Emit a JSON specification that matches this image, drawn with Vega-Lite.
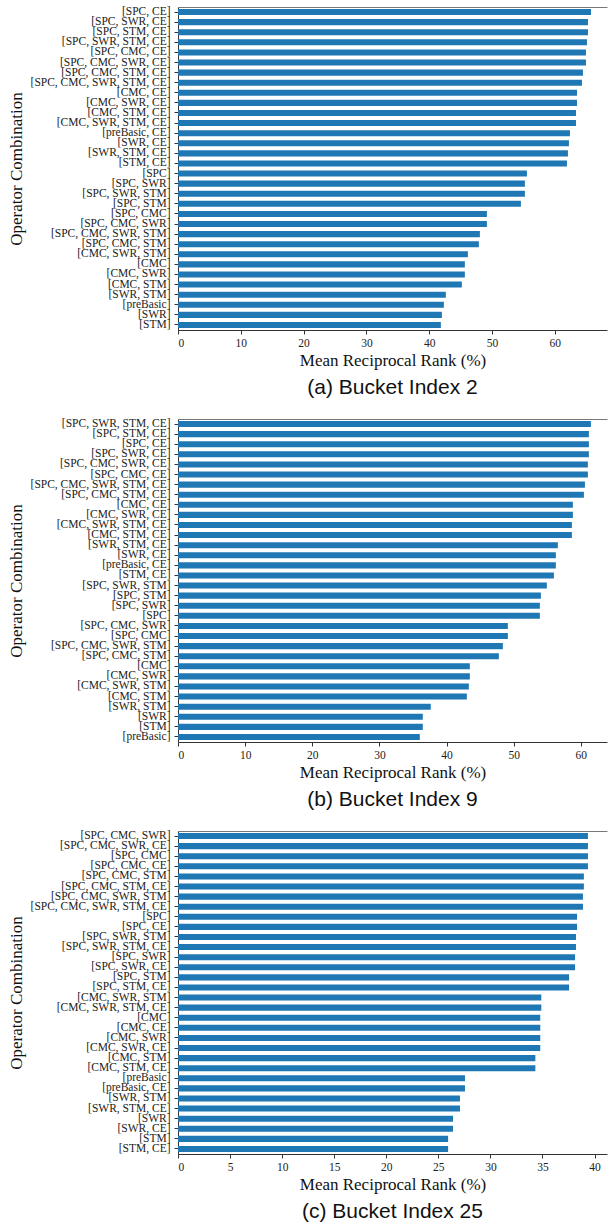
{
  "$schema": "https://vega.github.io/schema/vega-lite/v6.json",
  "padding": {"left": 6, "top": 5, "right": 0, "bottom": 0},
  "autosize": {"type": "pad"},
  "spacing": 19,
  "background": "white",
  "config": {
    "view": {"stroke": "#777", "strokeDash": [429, 3000], "strokeWidth": 1},
    "axis": {"labelFont": "Liberation Serif", "titleFont": "Liberation Serif", "labelFontSize": 11.5, "titleFontSize": 17, "titleFontWeight": "normal", "labelColor": "#222", "titleColor": "#111", "domainColor": "#333", "tickColor": "#333", "tickSize": 4, "grid": false},
    "title": {"font": "Liberation Sans", "fontSize": 21, "fontWeight": "normal", "color": "#111", "orient": "bottom", "anchor": "middle", "offset": 8},
    "bar": {"color": "#1f77b4"},
    "scale": {"bandPaddingInner": 0.4, "bandPaddingOuter": 0.2}
  },
  "datasets": {
    "a": [
      {"combo": "[SPC, CE]", "mrr": 65.75},
      {"combo": "[SPC, SWR, CE]", "mrr": 65.27},
      {"combo": "[SPC, STM, CE]", "mrr": 65.27},
      {"combo": "[SPC, SWR, STM, CE]", "mrr": 65.11},
      {"combo": "[SPC, CMC, CE]", "mrr": 64.95},
      {"combo": "[SPC, CMC, SWR, CE]", "mrr": 64.95},
      {"combo": "[SPC, CMC, STM, CE]", "mrr": 64.47},
      {"combo": "[SPC, CMC, SWR, STM, CE]", "mrr": 64.31},
      {"combo": "[CMC, CE]", "mrr": 63.52},
      {"combo": "[CMC, SWR, CE]", "mrr": 63.52},
      {"combo": "[CMC, STM, CE]", "mrr": 63.36},
      {"combo": "[CMC, SWR, STM, CE]", "mrr": 63.36},
      {"combo": "[preBasic, CE]", "mrr": 62.40},
      {"combo": "[SWR, CE]", "mrr": 62.24},
      {"combo": "[SWR, STM, CE]", "mrr": 62.08},
      {"combo": "[STM, CE]", "mrr": 61.92},
      {"combo": "[SPC]", "mrr": 55.55},
      {"combo": "[SPC, SWR]", "mrr": 55.23},
      {"combo": "[SPC, SWR, STM]", "mrr": 55.23},
      {"combo": "[SPC, STM]", "mrr": 54.59},
      {"combo": "[SPC, CMC]", "mrr": 49.18},
      {"combo": "[SPC, CMC, SWR]", "mrr": 49.18},
      {"combo": "[SPC, CMC, SWR, STM]", "mrr": 48.06},
      {"combo": "[SPC, CMC, STM]", "mrr": 47.90},
      {"combo": "[CMC, SWR, STM]", "mrr": 46.15},
      {"combo": "[CMC]", "mrr": 45.67},
      {"combo": "[CMC, SWR]", "mrr": 45.67},
      {"combo": "[CMC, STM]", "mrr": 45.19},
      {"combo": "[SWR, STM]", "mrr": 42.64},
      {"combo": "[preBasic]", "mrr": 42.33},
      {"combo": "[SWR]", "mrr": 42.01},
      {"combo": "[STM]", "mrr": 41.85}
    ],
    "b": [
      {"combo": "[SPC, SWR, STM, CE]", "mrr": 61.50},
      {"combo": "[SPC, STM, CE]", "mrr": 61.20},
      {"combo": "[SPC, CE]", "mrr": 61.20},
      {"combo": "[SPC, SWR, CE]", "mrr": 61.20},
      {"combo": "[SPC, CMC, SWR, CE]", "mrr": 61.05},
      {"combo": "[SPC, CMC, CE]", "mrr": 61.05},
      {"combo": "[SPC, CMC, SWR, STM, CE]", "mrr": 60.61},
      {"combo": "[SPC, CMC, STM, CE]", "mrr": 60.46},
      {"combo": "[CMC, CE]", "mrr": 58.82},
      {"combo": "[CMC, SWR, CE]", "mrr": 58.82},
      {"combo": "[CMC, SWR, STM, CE]", "mrr": 58.67},
      {"combo": "[CMC, STM, CE]", "mrr": 58.67},
      {"combo": "[SWR, STM, CE]", "mrr": 56.58},
      {"combo": "[SWR, CE]", "mrr": 56.28},
      {"combo": "[preBasic, CE]", "mrr": 56.28},
      {"combo": "[STM, CE]", "mrr": 55.99},
      {"combo": "[SPC, SWR, STM]", "mrr": 54.94},
      {"combo": "[SPC, STM]", "mrr": 54.05},
      {"combo": "[SPC, SWR]", "mrr": 53.90},
      {"combo": "[SPC]", "mrr": 53.90},
      {"combo": "[SPC, CMC, SWR]", "mrr": 49.13},
      {"combo": "[SPC, CMC]", "mrr": 49.13},
      {"combo": "[SPC, CMC, SWR, STM]", "mrr": 48.39},
      {"combo": "[SPC, CMC, STM]", "mrr": 47.79},
      {"combo": "[CMC]", "mrr": 43.47},
      {"combo": "[CMC, SWR]", "mrr": 43.47},
      {"combo": "[CMC, SWR, STM]", "mrr": 43.32},
      {"combo": "[CMC, STM]", "mrr": 43.02},
      {"combo": "[SWR, STM]", "mrr": 37.65},
      {"combo": "[SWR]", "mrr": 36.46},
      {"combo": "[STM]", "mrr": 36.46},
      {"combo": "[preBasic]", "mrr": 36.02}
    ],
    "c": [
      {"combo": "[SPC, CMC, SWR]", "mrr": 39.37},
      {"combo": "[SPC, CMC, SWR, CE]", "mrr": 39.37},
      {"combo": "[SPC, CMC]", "mrr": 39.37},
      {"combo": "[SPC, CMC, CE]", "mrr": 39.37},
      {"combo": "[SPC, CMC, STM]", "mrr": 38.98},
      {"combo": "[SPC, CMC, STM, CE]", "mrr": 38.98},
      {"combo": "[SPC, CMC, SWR, STM]", "mrr": 38.89},
      {"combo": "[SPC, CMC, SWR, STM, CE]", "mrr": 38.89},
      {"combo": "[SPC]", "mrr": 38.32},
      {"combo": "[SPC, CE]", "mrr": 38.32},
      {"combo": "[SPC, SWR, STM]", "mrr": 38.22},
      {"combo": "[SPC, SWR, STM, CE]", "mrr": 38.22},
      {"combo": "[SPC, SWR]", "mrr": 38.13},
      {"combo": "[SPC, SWR, CE]", "mrr": 38.13},
      {"combo": "[SPC, STM]", "mrr": 37.56},
      {"combo": "[SPC, STM, CE]", "mrr": 37.56},
      {"combo": "[CMC, SWR, STM]", "mrr": 34.89},
      {"combo": "[CMC, SWR, STM, CE]", "mrr": 34.89},
      {"combo": "[CMC]", "mrr": 34.79},
      {"combo": "[CMC, CE]", "mrr": 34.79},
      {"combo": "[CMC, SWR]", "mrr": 34.79},
      {"combo": "[CMC, SWR, CE]", "mrr": 34.79},
      {"combo": "[CMC, STM]", "mrr": 34.32},
      {"combo": "[CMC, STM, CE]", "mrr": 34.32},
      {"combo": "[preBasic]", "mrr": 27.56},
      {"combo": "[preBasic, CE]", "mrr": 27.56},
      {"combo": "[SWR, STM]", "mrr": 27.08},
      {"combo": "[SWR, STM, CE]", "mrr": 27.08},
      {"combo": "[SWR]", "mrr": 26.41},
      {"combo": "[SWR, CE]", "mrr": 26.41},
      {"combo": "[STM]", "mrr": 25.94},
      {"combo": "[STM, CE]", "mrr": 25.94}
    ]
  },
  "vconcat": [
    {
      "data": {"name": "a"},
      "width": 429,
      "height": 323,
      "title": {"text": "(a) Bucket Index 2"},
      "mark": "bar",
      "encoding": {
        "y": {"field": "combo", "type": "nominal", "sort": null, "title": "Operator Combination", "axis": {"titlePadding": 5, "labelPadding": 4}},
        "x": {"field": "mrr", "type": "quantitative", "scale": {"domain": [0, 68.3], "nice": false}, "axis": {"values": [0, 10, 20, 30, 40, 50, 60], "title": "Mean Reciprocal Rank (%)", "labelPadding": 3, "titlePadding": 4}}
      }
    },
    {
      "data": {"name": "b"},
      "width": 429,
      "height": 323,
      "title": {"text": "(b) Bucket Index 9"},
      "mark": "bar",
      "encoding": {
        "y": {"field": "combo", "type": "nominal", "sort": null, "title": "Operator Combination", "axis": {"titlePadding": 5, "labelPadding": 4}},
        "x": {"field": "mrr", "type": "quantitative", "scale": {"domain": [0, 63.9], "nice": false}, "axis": {"values": [0, 10, 20, 30, 40, 50, 60], "title": "Mean Reciprocal Rank (%)", "labelPadding": 3, "titlePadding": 4}}
      }
    },
    {
      "data": {"name": "c"},
      "width": 429,
      "height": 323,
      "title": {"text": "(c) Bucket Index 25"},
      "mark": "bar",
      "encoding": {
        "y": {"field": "combo", "type": "nominal", "sort": null, "title": "Operator Combination", "axis": {"titlePadding": 5, "labelPadding": 4}},
        "x": {"field": "mrr", "type": "quantitative", "scale": {"domain": [0, 41.2], "nice": false}, "axis": {"values": [0, 5, 10, 15, 20, 25, 30, 35, 40], "title": "Mean Reciprocal Rank (%)", "labelPadding": 3, "titlePadding": 4}}
      }
    }
  ]
}
